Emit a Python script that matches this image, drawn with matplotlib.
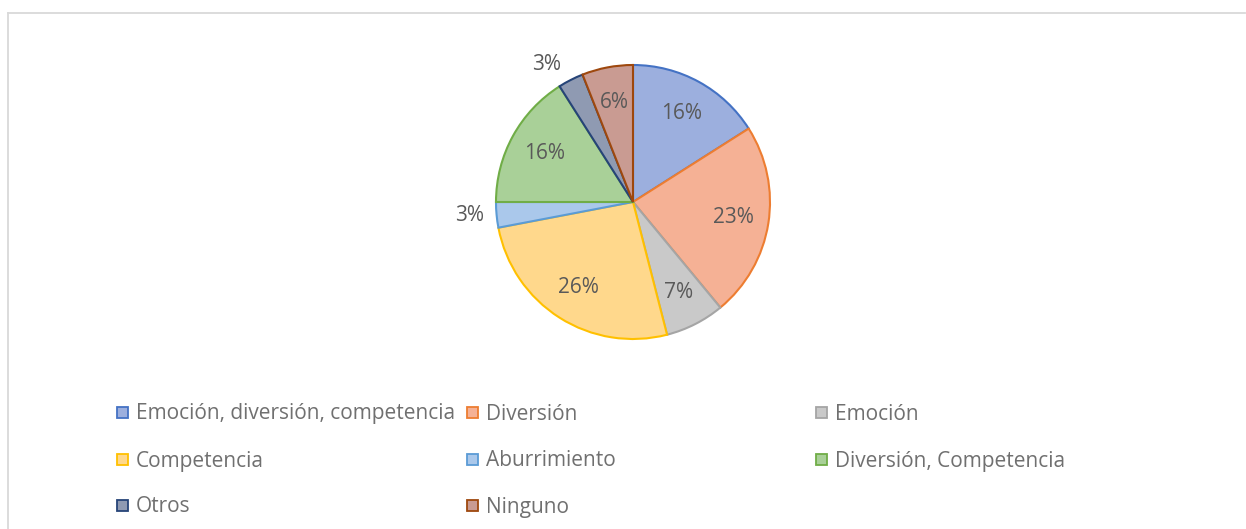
import matplotlib
matplotlib.use("Agg")
import matplotlib.pyplot as plt
from matplotlib.patches import Rectangle
from matplotlib.lines import Line2D
import numpy as np

labels = ["Emoción, diversión, competencia", "Diversión", "Emoción", "Competencia",
          "Aburrimiento", "Diversión, Competencia", "Otros", "Ninguno"]
values = [16, 23, 7, 26, 3, 16, 3, 6]
fill_colors = ["#9CAFDE", "#F5B195", "#C9C9C9", "#FFD88C", "#AAC8EB", "#A9D098", "#8F9AB2", "#C99B92"]
edge_colors = ["#4472C4", "#ED7D31", "#A5A5A5", "#FFC000", "#5B9BD5", "#70AD47", "#264478", "#9E480E"]

W, H = 1246, 529
fig = plt.figure(figsize=(W / 100, H / 100), dpi=100)
plt.rcParams['font.family'] = ['Open Sans', 'DejaVu Sans']

# chart border (top and left visible)
fig.add_artist(Line2D([8 / W, 1245 / W], [1 - 13 / H, 1 - 13 / H], color="#D9D9D9", lw=1.3))
fig.add_artist(Line2D([8 / W, 8 / W], [1 - 13 / H, 0], color="#D9D9D9", lw=1.3))

cx, cy, r = 633, 202, 137
ax = fig.add_axes([(cx - r) / W, 1 - (cy + r) / H, 2 * r / W, 2 * r / H])
wedges, texts, autotexts = ax.pie(
    values, colors=fill_colors, startangle=90, counterclock=False,
    autopct=lambda p: f"{p:.0f}%", pctdistance=0.74,
    wedgeprops=dict(linewidth=1.5),
    textprops=dict(color="#595959", fontsize=15))
for w, ec in zip(wedges, edge_colors):
    w.set_edgecolor(ec)
# small slices: labels outside end
for w, t, v in zip(wedges, autotexts, values):
    if v <= 3:
        ang = np.deg2rad((w.theta1 + w.theta2) / 2)
        c, s = np.cos(ang), np.sin(ang)
        d = 1.04
        t.set_position((d * c - (0.05 if c < 0 else 0), d * s))
        t.set_ha("right" if c < 0 else "left")
        t.set_va("bottom" if s > 0.5 else ("top" if s < -0.5 else "center"))
ax.set_xlim(-1, 1)
ax.set_ylim(-1, 1)
ax.set_aspect("equal")

# legend (manual, 3 columns)
col_x = [117, 467, 816]
row_y = [412, 459, 505]
for i, (lab, fc, ec) in enumerate(zip(labels, fill_colors, edge_colors)):
    cxl = col_x[i % 3]
    ryl = row_y[i // 3]
    fig.add_artist(Rectangle((cxl / W, 1 - (ryl + 6) / H), 11 / W, 11 / H,
                             facecolor=fc, edgecolor=ec, lw=1.3, transform=fig.transFigure))
    fig.text((cxl + 19) / W, 1 - (ryl + 2) / H, lab, fontsize=15, color="#707070",
             va="center", ha="left")

fig.savefig("out.png", dpi=100)
